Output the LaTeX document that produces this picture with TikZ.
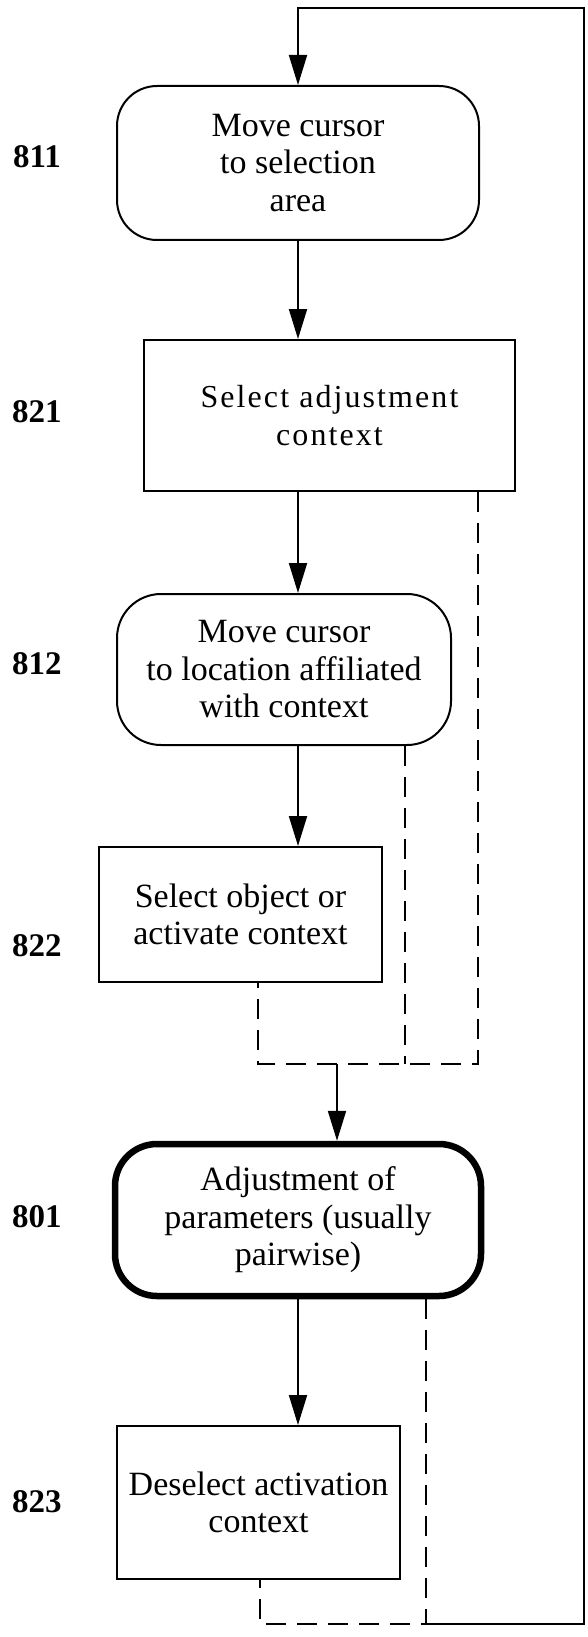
\documentclass[tikz,border=0pt]{standalone}
\usepackage{fontspec}
\setmainfont{Liberation Serif}
\newfontfamily\spacedfont[LetterSpace=6.5]{Liberation Serif}
\usetikzlibrary{arrows.meta}

\begin{document}
\begin{tikzpicture}[x=1pt,y=-1pt,
		every node/.style={font=\fontsize{34}{37.5}\selectfont,align=center,inner sep=0pt},
		roundbox/.style={draw,line width=2pt,rounded corners=40pt},
		plainbox/.style={draw,line width=2pt},
		mainbox/.style={draw,line width=6.5pt,rounded corners=42pt},
		reflabel/.style={font=\fontsize{33}{36}\selectfont\bfseries},
		flow/.style={line width=2pt,-{Triangle[length=30pt,width=18pt]}},
		back/.style={line width=1.8pt,dash pattern=on 20pt off 11pt}]
		\useasboundingbox (0,0) rectangle (588,1637);

		\draw (298,163) node [roundbox,minimum width=362pt,minimum height=154pt] (move) {Move cursor\\to selection\\area};
		\draw (329.5,415.5) node [plainbox,minimum width=371pt,minimum height=151pt,font=\spacedfont\fontsize{32}{37.5}\selectfont] (adjsel) {Select adjustment\\context};
		\draw (284,669.5) node [roundbox,rounded corners=44pt,minimum width=334pt,minimum height=151pt] (moveloc) {Move cursor\\to location affiliated\\with context};
		\draw (240.5,914.5) node [plainbox,minimum width=283pt,minimum height=135pt] (selobj) {Select object or\\activate context};
		\draw (298,1220) node [mainbox,minimum width=366pt,minimum height=152pt] (adjust) {Adjustment of\\parameters (usually\\pairwise)};
		\draw (258.5,1502.5) node [plainbox,minimum width=283pt,minimum height=153pt] (deselect) {Deselect activation\\context};

		\draw (37,157) node [reflabel] (l811) {811};
		\draw (37,412) node [reflabel] (l821) {821};
		\draw (37,664) node [reflabel] (l812) {812};
		\draw (37,946) node [reflabel] (l822) {822};
		\draw (37,1217) node [reflabel] (l801) {801};
		\draw (37,1502) node [reflabel] (l823) {823};

		\coordinate (join) at (337,1064);
		\coordinate (turn) at (426,1624);
		\coordinate (corner1) at (584,1624);
		\coordinate (corner2) at (584,8);
		\coordinate (corner3) at (298,8);
		\coordinate (tap1) at (478,0);
		\coordinate (tap2) at (405,0);
		\coordinate (tap3) at (258,0);
		\coordinate (tap4) at (260,0);

		\draw
			(move.south) edge [flow] (move.south |- adjsel.north)
			(move.south |- adjsel.south) edge [flow] (move.south |- moveloc.north)
			(move.south |- moveloc.south) edge [flow] (move.south |- selobj.north)
			(join) edge [flow] (join |- adjust.north)
			(adjust.south) edge [flow] (adjust.south |- deselect.north)
		;
		\draw [back] (adjsel.south -| tap1) -- (tap1 |- join) -- (tap3 |- join) -- (selobj.south -| tap3);
		\draw [back] (moveloc.south -| tap2) -- (tap2 |- join);
		\draw [back] (adjust.south -| turn) -- (turn) -- (tap4 |- turn) -- (deselect.south -| tap4);
		\draw [flow] (turn) -- (corner1) -- (corner2) -- (corner3) -- (move.north);
	\end{tikzpicture}
\end{document}
